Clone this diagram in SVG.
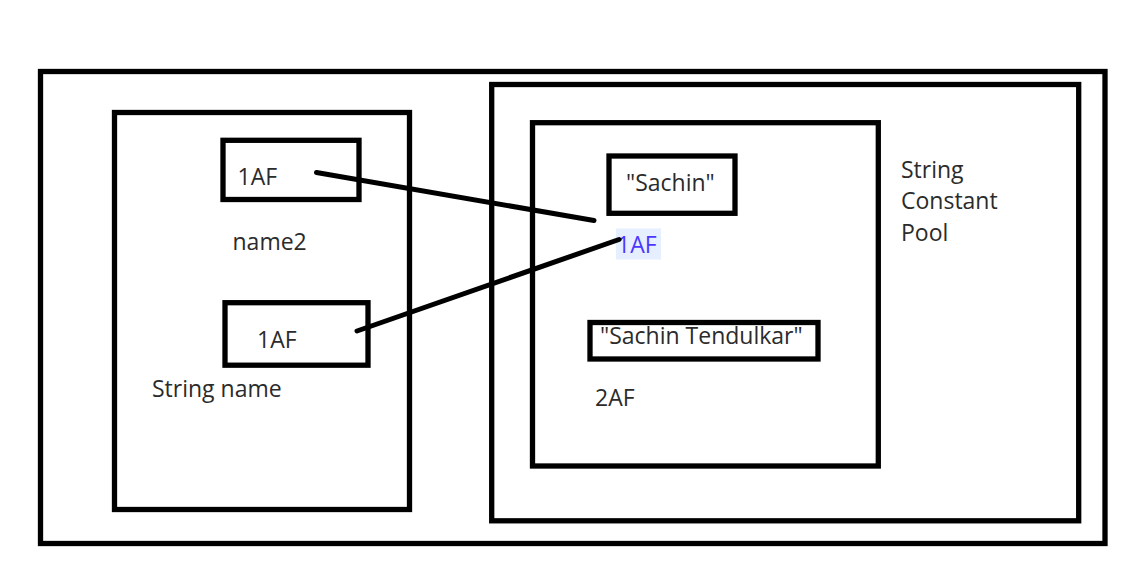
<svg xmlns="http://www.w3.org/2000/svg" width="1141" height="576" viewBox="0 0 1141 576">
<style>
.box{fill:none;stroke:#000;stroke-width:5.3}
.t{font-family:"Open Sans","Liberation Sans",sans-serif;font-size:23px;fill:#2b2b2b}
.blue{fill:#4b36ff}
.conn{stroke:#000;stroke-width:5;stroke-linecap:round;fill:none}
</style>
<rect width="1141" height="576" fill="#fff"/>
<g id="heap-outer"><rect class="box" x="40.5" y="71.5" width="1064.5" height="472"/></g>
<g id="stack">
<rect class="box" x="114.5" y="112.5" width="295" height="397"/>
</g>
<g id="name2">
<rect class="box" x="223" y="140.3" width="136" height="59.2"/>
<text class="t" x="237.5" y="185">1AF</text>
<text class="t" x="232.5" y="250">name2</text>
</g>
<g id="name">
<rect class="box" x="225" y="302.7" width="143" height="62.5"/>
<text class="t" x="257" y="348">1AF</text>
<text class="t" x="152" y="397">String name</text>
</g>
<g id="heap"><rect class="box" x="491.7" y="84.5" width="587" height="436.3"/></g>
<g id="pool">
<rect class="box" x="532.5" y="122.7" width="345.8" height="343.3"/>
<text class="t" x="901" y="178">String</text>
<text class="t" x="901" y="209">Constant</text>
<text class="t" x="901" y="241">Pool</text>
</g>
<g id="sachin">
<rect class="box" x="609" y="156" width="126" height="57.3"/>
<text class="t" x="626" y="191">"Sachin"</text>
<rect x="616" y="228.5" width="45" height="31" fill="#e6efff"/>
<text class="t blue" x="617" y="253">1AF</text>
</g>
<g id="sachin-tendulkar">
<rect class="box" x="590" y="322.5" width="228" height="36.5"/>
<text class="t" x="600" y="344">"Sachin Tendulkar"</text>
<text class="t" x="595" y="406">2AF</text>
</g>
<g id="connectors">
<line class="conn" x1="316.5" y1="172.5" x2="594" y2="220.5"/>
<line class="conn" x1="357" y1="331" x2="619" y2="239.5"/>
</g>
</svg>
